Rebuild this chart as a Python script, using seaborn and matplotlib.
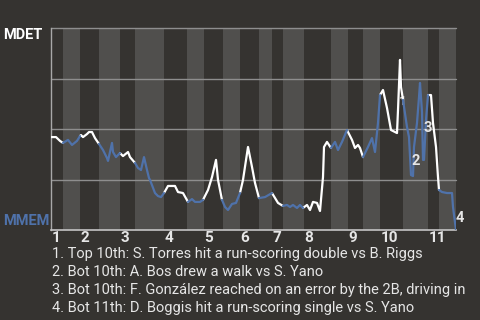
import numpy as np
import pandas as pd
import matplotlib
matplotlib.use("Agg")
import matplotlib.pyplot as plt
import matplotlib.transforms as mtransforms
import seaborn as sns

# ---- data -------------------------------------------------------------
# game progress (arbitrary play units) and MDET win probability (%)
play = [0, 5, 9, 12, 17, 21, 26, 29, 30, 32,
        36, 38, 41, 44, 48, 52, 56, 57, 61, 62,
        65, 69, 72, 77, 79, 84, 87, 90, 93, 96,
        98, 99, 104, 107, 110, 113, 117, 124, 127, 132,
        137, 141, 144, 149, 152, 157, 161, 165, 167, 171,
        174, 177, 181, 185, 189, 192, 197, 201, 204, 208,
        214, 221, 227, 232, 236, 239, 242, 246, 249, 252,
        256, 259, 262, 266, 269, 272, 273, 276, 280, 284,
        287, 291, 296, 301, 304, 307, 309, 312, 317, 321,
        324, 327, 329, 332, 336, 340, 346, 347, 349, 350,
        352, 356, 358, 360, 362, 363, 366, 368, 369, 371,
        372, 373, 375, 377, 380, 382, 385, 387, 388, 391,
        396, 401, 402, 405]
wp_mdet = [46.0, 46.0, 44.1, 43.1, 44.6, 42.1, 44.1, 46.5, 47.0, 46.0,
           47.5, 48.5, 48.5, 45.5, 42.6, 39.6, 35.6, 34.2, 43.1, 38.6,
           36.1, 38.1, 36.6, 38.6, 36.1, 33.2, 30.7, 29.7, 36.1, 29.7,
           25.7, 24.8, 18.3, 16.8, 16.3, 18.3, 21.8, 21.8, 18.8, 18.3,
           13.9, 15.3, 13.9, 13.9, 14.9, 19.8, 26.2, 34.7, 24.8, 14.9,
           11.4, 9.9, 12.9, 13.4, 18.3, 24.8, 41.1, 31.2, 23.3, 15.8,
           16.3, 18.3, 13.4, 11.9, 12.4, 11.4, 12.4, 10.9, 12.4, 10.9,
           12.4, 9.9, 13.9, 13.4, 9.4, 26.2, 41.1, 43.6, 40.6, 43.6,
           39.6, 43.6, 49.5, 44.6, 40.6, 42.1, 40.6, 36.1, 41.1, 45.5,
           38.6, 53.0, 66.8, 69.3, 60.4, 49.5, 48.0, 59.4, 84.2, 70.8,
           64.4, 51.0, 46.0, 27.2, 26.7, 41.1, 53.0, 65.8, 72.8, 58.4,
           34.7, 34.7, 54.5, 66.8, 66.8, 53.0, 41.1, 26.2, 19.8, 18.8,
           18.3, 18.3, 11.4, 0.0]

# half-inning boundaries (in play units): top 1, bot 1, top 2, ...
half_bounds = [0, 12, 29, 48, 69, 84, 113, 136, 153, 172, 189, 208,
               221, 232, 253, 280, 297, 312, 329, 352, 377, 388, 405]
innings = ["1", "2", "3", "4", "5", "6", "7", "8", "9", "10", "11"]

team_top = "MDET"
team_bottom = "MMEM"

# key events: label, play, win prob
event_labels = ["1", "2", "3", "4"]
event_play = [352, 365, 377, 409]
event_wp = [63.4, 34.2, 50.5, 5.9]
event_texts = [
    "1. Top 10th: S. Torres hit a run-scoring double vs B. Riggs",
    "2. Bot 10th: A. Bos drew a walk vs S. Yano",
    "3. Bot 10th: F. González reached on an error by the 2B, driving in",
    "4. Bot 11th: D. Boggis hit a run-scoring single vs S. Yano",
]

# ---- style ------------------------------------------------------------
BG = "#353330"
STRIPE = "#504f4d"
GRID = "#8e8e8e"
BLUE = "#4f72aa"
TXT = "#e6e6e6"

sns.set_style("dark")
plt.rcParams["font.family"] = ["Roboto", "DejaVu Sans"]

fig = plt.figure(figsize=(4.8, 3.2), dpi=100, facecolor=BG)
W, H = 480, 320
ax = fig.add_axes([51 / W, 1 - 230 / H, (456 - 51) / W, (230 - 28) / H])
ax.set_facecolor(BG)

# stripes for bottom halves
for k in range(len(half_bounds) - 1):
    if k % 2 == 1:
        ax.axvspan(half_bounds[k], half_bounds[k + 1], color=STRIPE, lw=0, zorder=0)

for yv in [25, 50, 75, 100]:
    ax.axhline(yv, color=GRID, lw=1.0, zorder=1, clip_on=False)

# build line segments coloured by half-inning
rows = []
unit = -1
prev_half = None
bounds = np.array(half_bounds)
for i in range(1, len(play)):
    mid = (play[i - 1] + play[i]) / 2
    half = int(np.searchsorted(bounds, mid, side="right") - 1)
    half = min(max(half, 0), len(half_bounds) - 2)
    if half != prev_half:
        unit += 1
        rows.append(dict(play=play[i - 1], wp=wp_mdet[i - 1], unit=unit, side=half % 2))
        prev_half = half
    rows.append(dict(play=play[i], wp=wp_mdet[i], unit=unit, side=half % 2))
df = pd.DataFrame(rows)

# event "1" label sits under the line
ax.text(event_play[0], event_wp[0], event_labels[0], color="#cfcfcf",
        fontsize=9.5, fontweight="bold", ha="center", va="center", zorder=2)

sns.lineplot(data=df, x="play", y="wp", hue="side", units="unit",
             estimator=None, sort=False, palette={0: "white", 1: BLUE},
             legend=False, lw=1.6, ax=ax, zorder=3)

for lab, px, py in zip(event_labels[1:], event_play[1:], event_wp[1:]):
    ax.text(px, py, lab, color=TXT, fontsize=10.5, fontweight="bold",
            ha="center", va="center", zorder=4, clip_on=False)

ax.set_xlim(half_bounds[0], half_bounds[-1])
ax.set_ylim(0, 100)
ax.set_xticks([])
ax.set_yticks([])
ax.set_xlabel("")
ax.set_ylabel("")
for s in ["top", "right"]:
    ax.spines[s].set_visible(False)
ax.spines["left"].set_color("#a8a8a8")
ax.spines["bottom"].set_color("#c4c4c4")
ax.spines["left"].set_linewidth(1.0)
ax.spines["bottom"].set_linewidth(1.2)

# inning labels
trans = mtransforms.blended_transform_factory(ax.transData, fig.transFigure)
for k, lab in enumerate(innings):
    ax.text(half_bounds[2 * k] + 0.5, 1 - 242 / H, lab, transform=trans,
            color=TXT, fontsize=11, fontweight="bold", ha="left", va="baseline")

# team labels
fig.text(3 / W, 1 - 39 / H, team_top, color="white", fontsize=10.5,
         fontweight="bold", ha="left", va="baseline")
fig.text(3 / W, 1 - 225 / H, team_bottom, color=BLUE, fontsize=10.5,
         fontweight="bold", ha="left", va="baseline")

# event descriptions
for j, t in enumerate(event_texts):
    fig.text(52 / W, 1 - (258 + 18 * j) / H, t, color=TXT, fontsize=10.5,
             ha="left", va="baseline")

fig.savefig("out.png", dpi=100, facecolor=BG)
